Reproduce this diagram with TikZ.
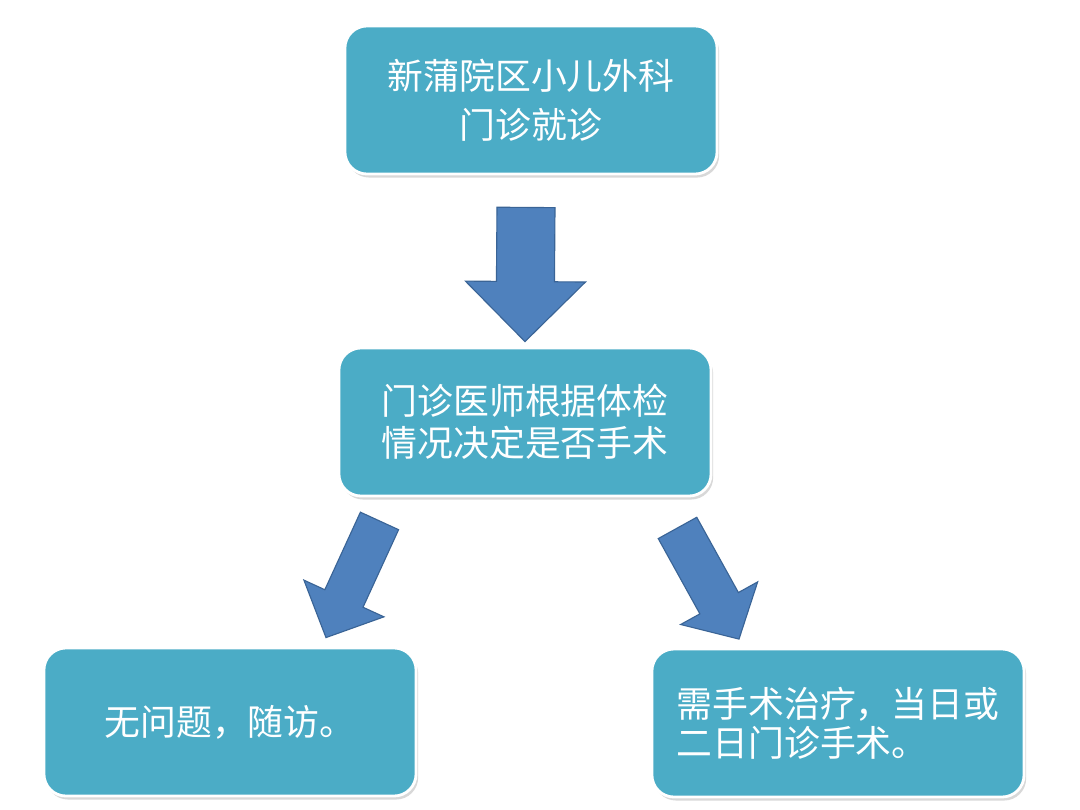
\documentclass[tikz,border=0pt]{standalone}
\usepackage{fontspec}
\setmainfont{Noto Sans CJK SC}
\usetikzlibrary{calc,shadows}
\definecolor{boxaqua}{HTML}{4BACC6}
\definecolor{arrowblue}{HTML}{4F81BD}
\definecolor{arrowedge}{HTML}{3A6496}
\tikzset{
  stepbox/.style={draw=white, line width=2pt, fill=boxaqua, rounded corners=0.55cm,
    minimum width=9.3cm, minimum height=3.7cm, text=white, align=center,
    font=\fontsize{25.5}{35}\selectfont,
    drop shadow={opacity=0.3, shadow xshift=1.5pt, shadow yshift=-2.5pt}},
  fatarrow/.style={fill=arrowblue, draw=arrowedge, line width=0.8pt, line join=miter}
}
% start, tip, shaft half width, head half width, head length
\newcommand{\blockarrow}[5]{%
  \coordinate (ah) at ($(#2)!#5!(#1)$);
  \draw[fatarrow] ($(#1)!#3!90:(#2)$) -- ($(ah)!#3!90:(#2)$) -- ($(ah)!#4!90:(#2)$)
    -- (#2) -- ($(ah)!#4!-90:(#2)$) -- ($(ah)!#3!-90:(#2)$) -- ($(#1)!#3!-90:(#2)$) -- cycle;
}
\begin{document}
\begin{tikzpicture}[x=0.025cm,y=-0.025cm]
  \fill[white] (0,0) rectangle (1080,810);
  \useasboundingbox (0,0) rectangle (1080,810);

  \node[stepbox] (visit) at (531,100) {新蒲院区小儿外科\\门诊就诊};
  \node[stepbox, font=\fontsize{25.5}{30}\selectfont] (decide) at (525,422) {门诊医师根据体检\\情况决定是否手术};
  \node[stepbox] (follow) at (230,722) {无问题，随访。};
  \node[stepbox, align=left, font=\fontsize{25.5}{28}\selectfont] (surgery) at (838,723) {需手术治疗，当日或\\二日门诊手术。};

  \coordinate (d1s) at ($(visit.south)+(-5,32)$);
  \coordinate (d1t) at ($(decide.north)+(0,-5)$);
  \coordinate (d2s) at ($(decide.south)+(-145.5,23.5)$);
  \coordinate (d2t) at ($(follow.north)+(96,-9)$);
  \coordinate (d3s) at ($(decide.south)+(152.5,30.5)$);
  \coordinate (d3t) at ($(surgery.north)+(-99,-8.5)$);

  \blockarrow{d1s}{d1t}{0.725cm}{1.5cm}{1.5cm}
  \blockarrow{d2s}{d2t}{0.525cm}{1.1cm}{1.075cm}
  \blockarrow{d3s}{d3t}{0.55cm}{1.1cm}{1.025cm}
\end{tikzpicture}
\end{document}
